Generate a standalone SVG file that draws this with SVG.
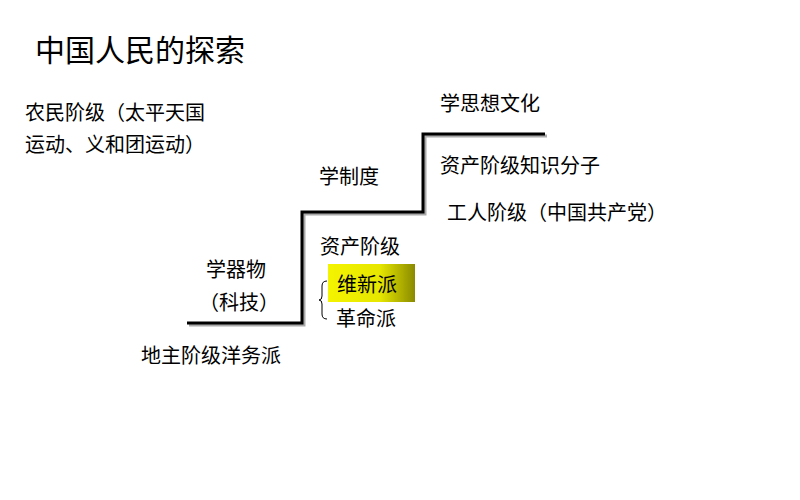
<svg xmlns="http://www.w3.org/2000/svg" width="800" height="500" viewBox="0 0 800 500">
<style>
text{font-family:"Noto Sans CJK SC","Liberation Sans",sans-serif;fill:#000}
.t{font-size:20px}
.h{font-size:30px}
</style>
<defs>
<linearGradient id="yg" x1="0" x2="1" y1="0" y2="0">
<stop offset="0" stop-color="#f4f400"/>
<stop offset="0.6" stop-color="#e6e600"/>
<stop offset="1" stop-color="#8a8a00"/>
</linearGradient>
</defs>
<rect width="800" height="500" fill="#fff"/>
<text class="h" x="35" y="61">中国人民的探索</text>
<g id="connectors">
<polyline points="189,325 304,325 304,214 425,214 425,136 547,136" fill="none" stroke="#aaa" stroke-width="3"/>
<polyline points="187,323 302,323 302,212 423,212 423,134 545,134" fill="none" stroke="#000" stroke-width="3"/>
<path d="M327,281 Q322,281 322,286 L322,296 Q322,300 319,300 Q322,300 322,304 L322,314 Q322,319 327,319" fill="none" stroke="#000" stroke-width="1"/>
</g>
<g id="n-peasant">
<text class="t" x="25" y="120">农民阶级（太平天国</text>
<text class="t" x="25" y="152">运动、义和团运动）</text>
</g>
<g id="n-landlord"><text class="t" x="141" y="363">地主阶级洋务派</text></g>
<g id="n-tech">
<text class="t" x="206" y="277">学器物</text>
<text class="t" x="199" y="310">（科技）</text>
</g>
<g id="n-bourgeois"><text class="t" x="320" y="254">资产阶级</text></g>
<g id="n-reform">
<rect x="328" y="264" width="87" height="38" fill="url(#yg)"/>
<text class="t" x="337" y="292">维新派</text>
</g>
<g id="n-revolution"><text class="t" x="336" y="326">革命派</text></g>
<g id="n-system"><text class="t" x="319" y="184">学制度</text></g>
<g id="n-culture"><text class="t" x="440" y="111">学思想文化</text></g>
<g id="n-intellectual"><text class="t" x="440" y="173">资产阶级知识分子</text></g>
<g id="n-worker"><text class="t" x="447" y="220">工人阶级（中国共产党）</text></g>
</svg>
